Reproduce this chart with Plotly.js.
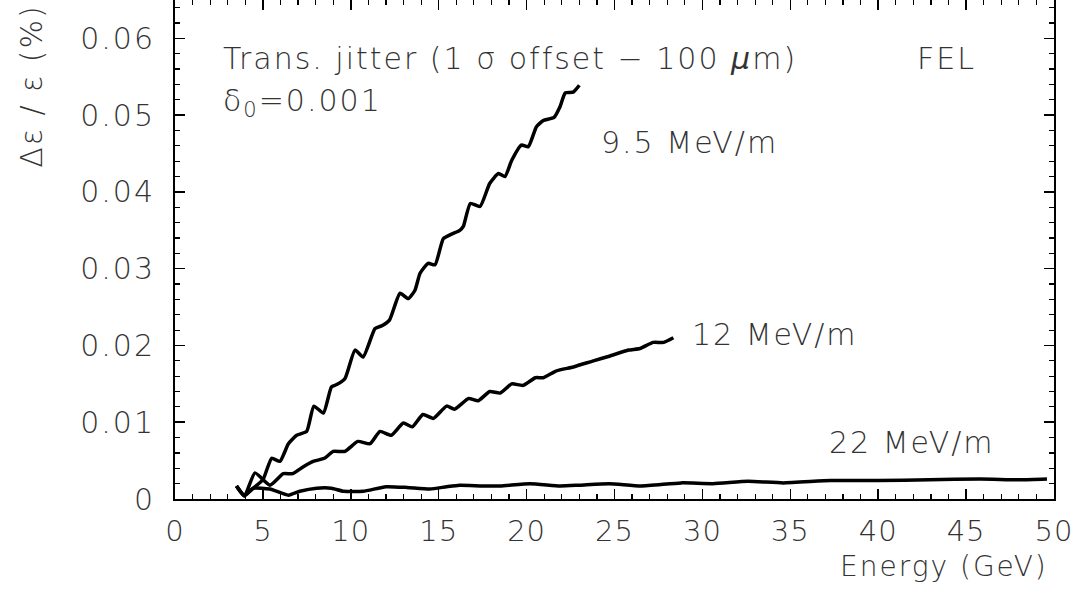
<!DOCTYPE html>
<html>
<head>
<meta charset="utf-8">
<script src="https://cdn.plot.ly/plotly-3.0.1.min.js"></script>
<style>
html,body{margin:0;padding:0;background:#fff;}
#chart{width:1081px;height:602px;}
.annotation-text{letter-spacing:2px;}
.ytick text{letter-spacing:2px;}
.xtick text{letter-spacing:1px;}
</style>
</head>
<body>
<div id="chart"></div>
<script>
// 9.5 MeV/m
const e95_x = [3.5, 3.95, 4.5, 5.0, 5.5, 5.97, 6.45, 6.92, 7.49, 7.9, 8.44, 8.9, 9.2, 9.67, 10.24, 10.7, 11.38, 11.8, 12.2, 12.8, 13.27, 13.65, 13.94, 14.4, 14.79, 15.26, 15.64, 16.2, 16.4, 16.8, 17.35, 17.9, 18.4, 18.77, 19.15, 19.7, 20.1, 20.56, 20.95, 21.56, 21.9, 22.2, 22.65, 23.0];
const e95_y = [0.0017, 0.0005, 0.0015, 0.0025, 0.0053, 0.0049, 0.0072, 0.0083, 0.0088, 0.0121, 0.0112, 0.0146, 0.0149, 0.0157, 0.0194, 0.0185, 0.0222, 0.0226, 0.0233, 0.0268, 0.0261, 0.0272, 0.0294, 0.0307, 0.0305, 0.0339, 0.0344, 0.0350, 0.0355, 0.0385, 0.0381, 0.0411, 0.0424, 0.0420, 0.0441, 0.0461, 0.0459, 0.0485, 0.0493, 0.0497, 0.0511, 0.0529, 0.0530, 0.0539];
// 12 MeV/m
const e12_x = [3.5, 3.95, 4.55, 5.4, 6.16, 6.7, 7.3, 7.86, 8.5, 9.0, 9.67, 10.4, 11.1, 11.66, 12.3, 12.99, 13.5, 14.1, 14.7, 15.45, 15.9, 16.7, 17.25, 17.9, 18.5, 19.15, 19.8, 20.5, 20.95, 21.7, 22.66, 23.8, 24.7, 25.8, 26.45, 27.2, 27.8, 28.35];
const e12_y = [0.0017, 0.0004, 0.0034, 0.0018, 0.0033, 0.0033, 0.0042, 0.0049, 0.0053, 0.0062, 0.0062, 0.0075, 0.0072, 0.0088, 0.0083, 0.0099, 0.0094, 0.0110, 0.0105, 0.0121, 0.0117, 0.0131, 0.0128, 0.0140, 0.0138, 0.0150, 0.0148, 0.0158, 0.0158, 0.0167, 0.0172, 0.0180, 0.0186, 0.0194, 0.0196, 0.0204, 0.0204, 0.0210];
// 22 MeV/m
const e22_x = [3.5, 3.95, 4.45, 5.4, 6.45, 7.1, 8.06, 8.9, 9.6, 10.7, 12.0, 13.2, 14.5, 15.45, 16.2, 17.5, 18.5, 20.2, 21.9, 23.0, 24.7, 26.5, 28.8, 30.6, 32.6, 34.6, 37.3, 40.0, 42.9, 45.8, 48.1, 49.6];
const e22_y = [0.0017, 0.0004, 0.0014, 0.0013, 0.0005, 0.0010, 0.0014, 0.0014, 0.0010, 0.0010, 0.0016, 0.0015, 0.0013, 0.0016, 0.0018, 0.0017, 0.0017, 0.0020, 0.0017, 0.0018, 0.0020, 0.0017, 0.0021, 0.0020, 0.0023, 0.0021, 0.0024, 0.0024, 0.0025, 0.0026, 0.0025, 0.0026];

const x_ticks = [0, 5, 10, 15, 20, 25, 30, 35, 40, 45, 50];
const y_ticks = [0, 0.01, 0.02, 0.03, 0.04, 0.05, 0.06];
const y_ticklabels = ["0", "0.01", "0.02", "0.03", "0.04", "0.05", "0.06"];

const labels = [
  {text: "Trans. jitter (1 σ offset − 100 <i>μ</i>m)", x: 2.62, y: 0.0574},
  {text: "δ<sub>0</sub>=0.001", x: 2.62, y: 0.0516},
  {text: "FEL", x: 42.1, y: 0.0574},
  {text: "9.5 MeV/m", x: 24.1, y: 0.0464},
  {text: "12 MeV/m", x: 29.3, y: 0.0214},
  {text: "22 MeV/m", x: 37.1, y: 0.0074}
];

const FONT = "DejaVu Sans";
const TXT = "#333";
const WEIGHT = 200;
const line = {color: "#000", width: 3.5, shape: "spline", smoothing: 0.5};

const traces = [
  {x: e95_x, y: e95_y, mode: "lines", line: line, hoverinfo: "skip"},
  {x: e12_x, y: e12_y, mode: "lines", line: line, hoverinfo: "skip"},
  {x: e22_x, y: e22_y, mode: "lines", line: line, hoverinfo: "skip"}
];

const annotations = labels.map(l => ({
  text: l.text, x: l.x, y: l.y, xref: "x", yref: "y",
  xanchor: "left", yanchor: "middle", showarrow: false,
  font: {family: FONT, size: 30, color: TXT, weight: WEIGHT}
}));
annotations.push({
  text: "Energy (GeV)", x: 0.995, y: -0.136, xref: "paper", yref: "paper",
  xanchor: "right", yanchor: "middle", showarrow: false,
  font: {family: FONT, size: 28, color: TXT, weight: WEIGHT}
});
annotations.push({
  text: "Δε / ε (%)", x: -0.1627, y: 0.828, xref: "paper", yref: "paper",
  xanchor: "center", yanchor: "middle", showarrow: false, textangle: -90,
  font: {family: FONT, size: 30, color: TXT, weight: WEIGHT}
});

const layout = {
  width: 1081, height: 602,
  margin: {l: 175, r: 27, t: 0, b: 103},
  paper_bgcolor: "#fff", plot_bgcolor: "#fff",
  showlegend: false,
  xaxis: {
    range: [0, 50], tickmode: "array", tickvals: x_ticks,
    ticks: "inside", ticklen: 10, tickwidth: 1.5, tickcolor: "#000",
    minor: {dtick: 1, ticks: "inside", ticklen: 5, tickwidth: 1.2, tickcolor: "#000", showgrid: false},
    showline: true, linewidth: 2, linecolor: "#000", mirror: "ticks",
    showgrid: false, zeroline: false,
    tickfont: {family: FONT, size: 29, color: TXT, weight: WEIGHT},
    ticklabelstandoff: 5
  },
  yaxis: {
    range: [0, 0.065], tickmode: "array", tickvals: y_ticks, ticktext: y_ticklabels,
    ticks: "inside", ticklen: 10, tickwidth: 1.5, tickcolor: "#000",
    minor: {dtick: 0.002, ticks: "inside", ticklen: 5, tickwidth: 1.2, tickcolor: "#000", showgrid: false},
    showline: true, linewidth: 2, linecolor: "#000", mirror: "ticks",
    showgrid: false, zeroline: false,
    tickfont: {family: FONT, size: 30, color: TXT, weight: WEIGHT},
    ticklabelstandoff: 12
  },
  annotations: annotations
};

Plotly.newPlot("chart", traces, layout, {staticPlot: true, displayModeBar: false});
</script>
</body>
</html>
